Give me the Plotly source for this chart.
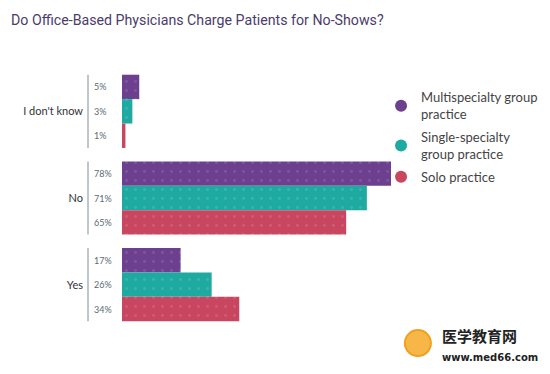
import plotly.graph_objects as go

categories = ["I don't know", "No", "Yes"]
series_names = ["Multispecialty group<br>practice", "Single-specialty<br>group practice", "Solo practice"]
multi = [5, 78, 17]
single = [3, 71, 26]
solo = [1, 65, 34]
colors = ["#6c3f8f", "#1eaaa0", "#c8465f"]
values = [multi, single, solo]

bargap = 0.155
bw = (1 - bargap) / 3

fig = go.Figure()
for s, (name, vals, col) in enumerate(zip(series_names, values, colors)):
    fig.add_trace(go.Bar(
        y=categories, x=vals, orientation="h", name=name,
        marker=dict(color=col, line=dict(width=0),
                    pattern=dict(shape=".", fgcolor="white", fgopacity=0.12, size=9, solidity=0.08)),
        showlegend=False, hoverinfo="skip"))
    fig.add_trace(go.Scatter(
        x=[None], y=[None], mode="markers", name=name, legendgroup=f"g{s}",
        marker=dict(symbol="circle", size=14, color=col)))

annotations = []
shapes = []
for g, cat in enumerate(categories):
    for s in range(3):
        off = (s - 1) * bw
        annotations.append(dict(
            x=0, y=g + off, xref="x", yref="y", text=f"{values[s][g]}%",
            showarrow=False, xanchor="left", xshift=-30,
            font=dict(family="Lato, sans-serif", size=9, color="#5b6a70")))
    shapes.append(dict(
        type="line", xref="paper", yref="y", xsizemode="pixel", xanchor=0,
        x0=-34, x1=-34, y0=g - 1.5 * bw, y1=g + 1.5 * bw,
        line=dict(color="#aab4b8", width=1.5)))

# watermark
annotations.append(dict(x=1.182, y=-0.030, xref="paper", yref="paper", xanchor="left", yanchor="middle",
                        text="<b>医学教育网</b>", showarrow=False,
                        font=dict(family="Noto Sans CJK SC", size=15, color="#222222")))
annotations.append(dict(x=1.182, y=-0.112, xref="paper", yref="paper", xanchor="left", yanchor="middle",
                        text="<b>www.med66.com</b>", showarrow=False,
                        font=dict(family="DejaVu Sans", size=10, color="#222222")))
shapes.append(dict(type="circle", xref="paper", yref="paper",
                   xsizemode="pixel", ysizemode="pixel", xanchor=1.100, yanchor=-0.058,
                   x0=-13, x1=13, y0=-13, y1=13,
                   line=dict(color="#f0a020", width=2), fillcolor="#f7b648"))

fig.update_layout(
    width=550, height=374,
    margin=dict(l=122, r=159, t=68, b=46, autoexpand=False),
    paper_bgcolor="white", plot_bgcolor="white",
    barmode="group", bargap=bargap, bargroupgap=0,
    title=dict(text="Do Office-Based Physicians Charge Patients for No-Shows?",
               xref="container", x=0.02, xanchor="left", y=0.947, yanchor="middle",
               font=dict(family="Roboto, sans-serif", size=14.2, color="#4b3c6b")),
    xaxis=dict(range=[0, 78], visible=False),
    yaxis=dict(autorange="reversed", showgrid=False, zeroline=False, showline=False,
               ticks="", ticklabelstandoff=38,
               tickfont=dict(family="Lato, sans-serif", size=11, color="#333333")),
    legend=dict(x=0.963, y=0.945, xanchor="left", yanchor="top",
                bgcolor="rgba(0,0,0,0)",
                font=dict(family="Lato, sans-serif", size=13, color="#444444"),
                tracegroupgap=3, itemsizing="constant"),
    annotations=annotations, shapes=shapes,
)

fig.write_html("out.html", config={"displayModeBar": False},
               post_script="document.body.style.margin='0';document.body.style.overflow='hidden';")
